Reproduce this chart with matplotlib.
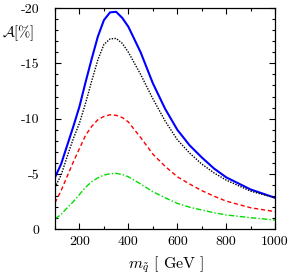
import matplotlib
matplotlib.use("Agg")
import matplotlib.pyplot as plt
from matplotlib.ticker import MultipleLocator

plt.rcParams['font.family'] = ['cmr10', 'DejaVu Serif']
plt.rcParams['mathtext.fontset'] = 'cm'
plt.rcParams['axes.unicode_minus'] = False
plt.rcParams['axes.formatter.use_mathtext'] = False

m_sq = [100, 125, 150, 175, 200, 225, 250, 275, 300, 325, 350, 375, 400,
        450, 500, 550, 600, 650, 700, 750, 800, 900, 1000]
blue = [-4.7, -5.9, -7.6, -9.3, -11.1, -13.3, -15.4, -17.4, -18.9, -19.6, -19.65, -19.1, -18.3,
        -16.0, -13.2, -10.9, -9.0, -7.6, -6.5, -5.5, -4.7, -3.6, -2.85]
black = [-3.8, -4.9, -6.6, -8.2, -9.6, -11.4, -13.4, -15.3, -16.7, -17.2, -17.25, -16.8, -16.0,
         -14.0, -11.8, -9.8, -8.1, -6.9, -5.9, -5.1, -4.45, -3.45, -2.85]
red = [-2.4, -3.5, -4.8, -6.1, -7.3, -8.5, -9.3, -9.9, -10.2, -10.35, -10.3, -10.1, -9.7,
       -8.3, -6.8, -5.7, -4.75, -4.1, -3.5, -3.0, -2.55, -1.95, -1.6]
green = [-0.95, -1.35, -1.95, -2.5, -3.15, -3.8, -4.3, -4.65, -4.9, -5.02, -5.06, -4.95, -4.75,
         -4.1, -3.4, -2.85, -2.35, -2.0, -1.75, -1.5, -1.3, -1.05, -0.84]

fig = plt.figure(figsize=(2.99, 2.74), dpi=100)
ax = fig.add_axes([0.184, 0.163, 0.736, 0.808])

ax.plot(m_sq, blue, color='#0000ff', lw=1.5, ls='-')
ax.plot(m_sq, black, color='#000000', lw=1.0, ls=(0, (1, 1)))
ax.plot(m_sq, red, color='#ff0000', lw=1.0, ls=(0, (3, 2)))
ax.plot(m_sq, green, color='#00dd00', lw=1.0, ls=(0, (4, 1.5, 1, 1.5)))

ax.set_xlim(100, 1000)
ax.set_ylim(0, -20)
ax.xaxis.set_major_locator(MultipleLocator(200))
ax.xaxis.set_minor_locator(MultipleLocator(100))
ax.yaxis.set_minor_locator(MultipleLocator(1))
ax.set_yticks([0, -5, -10, -15, -20])
ax.set_yticklabels(['0', '-5', '-10', '-15', '-20'])
ax.tick_params(which='both', direction='in', top=True, right=True, labelsize=10, width=0.8)
ax.tick_params(axis='x', which='major', length=4, pad=5)
ax.tick_params(axis='y', which='major', length=4, pad=11)
ax.tick_params(which='minor', length=2.5)
for s in ax.spines.values():
    s.set_linewidth(0.9)

fig.text(0.008, 0.878, r'$\mathcal{A}$[%]', fontsize=10.5, ha='left', va='center')
fig.text(0.555, 0.033, r'$m_{\tilde q}$ [ GeV ]', fontsize=11.5, ha='center', va='center')

fig.savefig('out.png', dpi=100)
